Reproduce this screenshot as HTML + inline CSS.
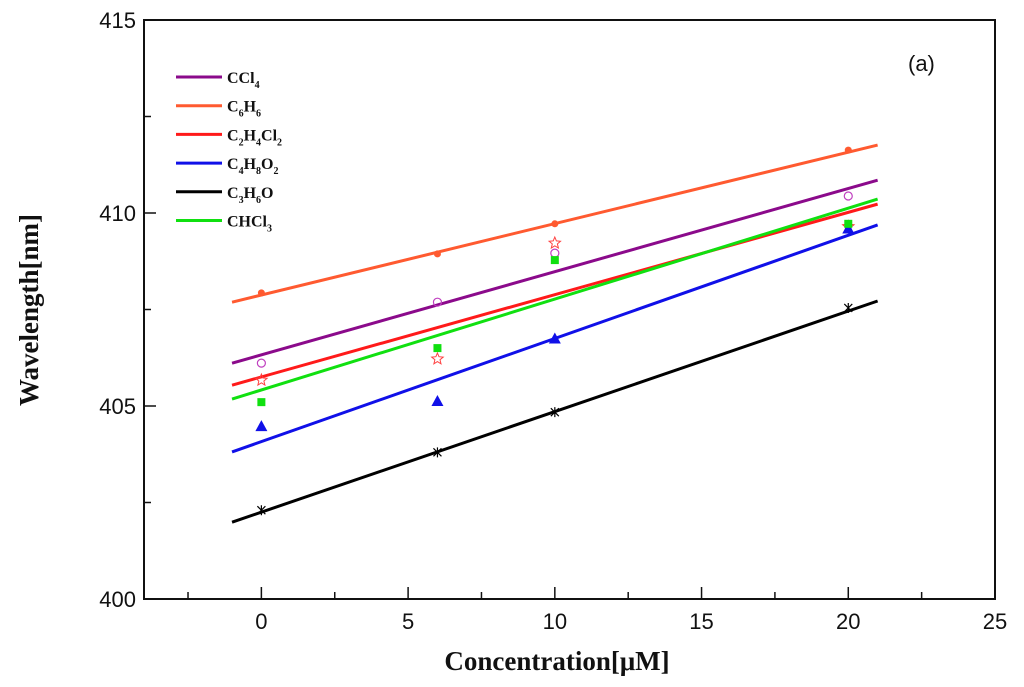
<!DOCTYPE html>
<html><head><meta charset="utf-8"><style>
body{margin:0;background:#fff}
svg{display:block}
.tk{font-family:"Liberation Sans",sans-serif;font-size:22px;fill:#111}
.lg{font-family:"Liberation Serif",serif;font-weight:bold;font-size:16px;fill:#111}
.ttl{font-family:"Liberation Serif",serif;font-weight:bold;font-size:27px;fill:#111}
</style></head><body>
<svg id="chart" width="1024" height="687">
<g id="plot"></g>
</svg>
<script>
const xTicks=[0,5,10,15,20,25];
const yTicks=[400,405,410,415];
const seriesNames=["CCl4","C6H6","C2H4Cl2","C4H8O2","C3H6O","CHCl3"];
const concentrations=[0,6,10,20];
const ccl4Pts=[406.11,407.69,408.96,410.44];
const c6h6Pts=[407.93,408.94,409.72,411.63];
const c2h4cl2Pts=[405.67,406.22,409.22,409.65];
const c4h8o2Pts=[404.48,405.13,406.75,409.6];
const c3h6oPts=[402.3,403.8,404.84,407.54];
const chcl3Pts=[405.1,406.5,408.78,409.72];
const fitX=[-1,21];
const ccl4Fit=[406.11,410.85];
const c6h6Fit=[407.69,411.76];
const c2h4cl2Fit=[405.54,410.23];
const c4h8o2Fit=[403.81,409.69];
const c3h6oFit=[401.99,407.72];
const chcl3Fit=[405.18,410.36];

const NS="http://www.w3.org/2000/svg";
const L=144,R=995,T=20,B=599,xmin=-4,xmax=25,ymin=400,ymax=415;
const sx=v=>L+(v-xmin)/(xmax-xmin)*(R-L);
const sy=v=>B-(v-ymin)/(ymax-ymin)*(B-T);
const g=document.getElementById('plot');
function mk(tag,at,parent){const e=document.createElementNS(NS,tag);for(const k in at)e.setAttribute(k,at[k]);(parent||g).appendChild(e);return e;}

const frame=mk('rect',{x:L,y:T,width:R-L,height:B-T,fill:'none',stroke:'#111','stroke-width':2});



for(let v=-2.5;v<=25;v+=2.5){
  const major=Math.abs(v%5)<1e-6;
  const t=mk('line',{x1:sx(v),x2:sx(v),y1:B,y2:B-(major?12:7),stroke:'#111','stroke-width':1.5});
  
  
}
xTicks.forEach(v=>{
  const t=mk('text',{x:sx(v),y:B+30,'text-anchor':'middle',class:'tk'});t.textContent=v;
  
  
});
for(let v=400;v<=415;v+=2.5){
  const major=Math.abs(v%5)<1e-6;
  const t=mk('line',{x1:L,x2:L+(major?12:7),y1:sy(v),y2:sy(v),stroke:'#111','stroke-width':1.5});
  
  
}
yTicks.forEach(v=>{
  const t=mk('text',{x:L-8,y:sy(v)+8,'text-anchor':'end',class:'tk'});t.textContent=v;
  
  
});

const colors=["#8b0a8b","#ff5a30","#ff1a1a","#1010e8","#000000","#10e010"];
const pts=[ccl4Pts,c6h6Pts,c2h4cl2Pts,c4h8o2Pts,c3h6oPts,chcl3Pts];
const fits=[ccl4Fit,c6h6Fit,c2h4cl2Fit,c4h8o2Fit,c3h6oFit,chcl3Fit];
fits.forEach((f,i)=>{
  const l=mk('line',{x1:sx(fitX[0]),y1:sy(f[0]),x2:sx(fitX[1]),y2:sy(f[1]),stroke:colors[i],'stroke-width':3});
  
  
});
function star(cx,cy,r){let p=[];for(let k=0;k<10;k++){const a=-Math.PI/2+k*Math.PI/5,rr=k%2?r*0.45:r;p.push((cx+rr*Math.cos(a)).toFixed(1)+','+(cy+rr*Math.sin(a)).toFixed(1));}return p.join(' ');}
pts.forEach((arr,i)=>{
  arr.forEach((v,j)=>{
    const cx=sx(concentrations[j]),cy=sy(v);let m;
    if(i===0)m=mk('circle',{cx,cy,r:4,fill:'none',stroke:'#c040c0','stroke-width':1.2});
    else if(i===1)m=mk('circle',{cx,cy,r:3.5,fill:colors[1]});
    else if(i===2)m=mk('polygon',{points:star(cx,cy,6),fill:'none',stroke:'#ff4040','stroke-width':1});
    else if(i===3)m=mk('polygon',{points:`${cx},${cy-6} ${cx-6},${cy+5} ${cx+6},${cy+5}`,fill:colors[3]});
    else if(i===4)m=mk('path',{d:`M${cx-4},${cy-4}L${cx+4},${cy+4}M${cx+4},${cy-4}L${cx-4},${cy+4}M${cx},${cy-5}L${cx},${cy+5}`,stroke:'#000','stroke-width':1.2});
    else m=mk('rect',{x:cx-4,y:cy-4,width:8,height:8,fill:colors[5]});
    
    
  });
});

const legLabels=['CCl<tspan dy="5" font-size="10">4</tspan>','C<tspan dy="5" font-size="10">6</tspan><tspan dy="-5">H</tspan><tspan dy="5" font-size="10">6</tspan>','C<tspan dy="5" font-size="10">2</tspan><tspan dy="-5">H</tspan><tspan dy="5" font-size="10">4</tspan><tspan dy="-5">Cl</tspan><tspan dy="5" font-size="10">2</tspan>','C<tspan dy="5" font-size="10">4</tspan><tspan dy="-5">H</tspan><tspan dy="5" font-size="10">8</tspan><tspan dy="-5">O</tspan><tspan dy="5" font-size="10">2</tspan>','C<tspan dy="5" font-size="10">3</tspan><tspan dy="-5">H</tspan><tspan dy="5" font-size="10">6</tspan><tspan dy="-5">O</tspan>','CHCl<tspan dy="5" font-size="10">3</tspan>'];
legLabels.forEach((s,i)=>{
  const y=77+i*28.7;
  const l=mk('line',{x1:176,x2:222,y1:y,y2:y,stroke:colors[i],'stroke-width':3});
  
  
  const t=mk('text',{x:227,y:y+6,class:'lg'});t.innerHTML=s;
  
  
});
const a=mk('text',{x:908,y:71,class:'tk','font-size':'23'});a.textContent='(a)';


const xt=mk('text',{x:557,y:670,'text-anchor':'middle',class:'ttl'});xt.textContent='Concentration[μM]';


const yt=mk('text',{x:0,y:0,'text-anchor':'middle',class:'ttl',transform:'translate(38,310) rotate(-90)'});yt.textContent='Wavelength[nm]';


</script>
</body></html>
